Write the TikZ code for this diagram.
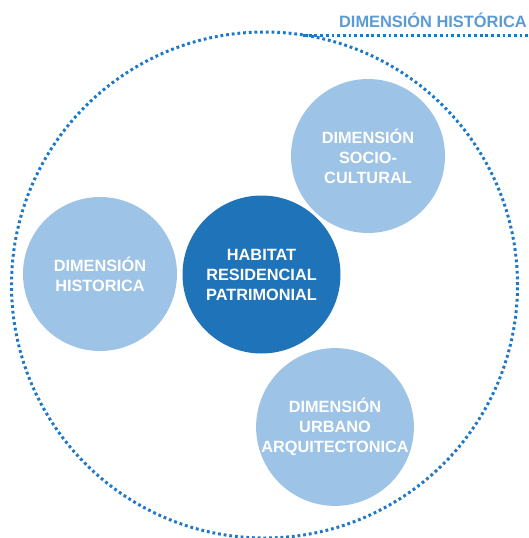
\documentclass[tikz,border=0pt]{standalone}
\usepackage{fontspec}
\setmainfont{Liberation Sans}
\definecolor{darkblue}{HTML}{1F73B9}
\definecolor{lightblue}{HTML}{9DC3E6}
\definecolor{dotblue}{HTML}{1E78C8}
\definecolor{titleblue}{HTML}{5B9BD5}
\begin{document}
\begin{tikzpicture}[x=1pt,y=-1pt,
  bubble/.style={circle, inner sep=0pt, text=white, align=center,
    font=\bfseries\fontsize{16.3}{20}\selectfont},
  lightbubble/.style={bubble, fill=lightblue},
  darkbubble/.style={bubble, fill=darkblue},
  dotline/.style={draw=dotblue, line width=3pt, dash pattern=on 2.8pt off 2.9pt}]
\useasboundingbox (0,0) rectangle (529,538);

% outer dotted boundary
\node[dotline, circle, minimum size=506pt, inner sep=0pt] (outer) at (264.5,285) {};
\coordinate (lineStart) at (303,35);
\coordinate (lineEnd) at (529,35);
\draw[dotline] (lineStart) -- (lineEnd);
\node[text=titleblue, font=\bfseries\fontsize{16.4}{20}\selectfont, anchor=east, inner sep=0pt] (title) at (527,20) {DIMENSIÓN HISTÓRICA};

% dimension bubbles
\node[lightbubble, minimum size=154pt] (hist) at (100,274) {DIMENSIÓN\\HISTORICA};
\node[lightbubble, minimum size=154pt] (socio) at (368,156) {DIMENSIÓN\\SOCIO-\\CULTURAL};
\node[lightbubble, minimum size=156pt] (urb) at (335,427) {DIMENSIÓN\\URBANO\\ARQUITECTONICA};
\node[darkbubble, minimum size=158pt] (hab) at (261.5,274.5) {HABITAT\\RESIDENCIAL\\PATRIMONIAL};
\end{tikzpicture}
\end{document}
